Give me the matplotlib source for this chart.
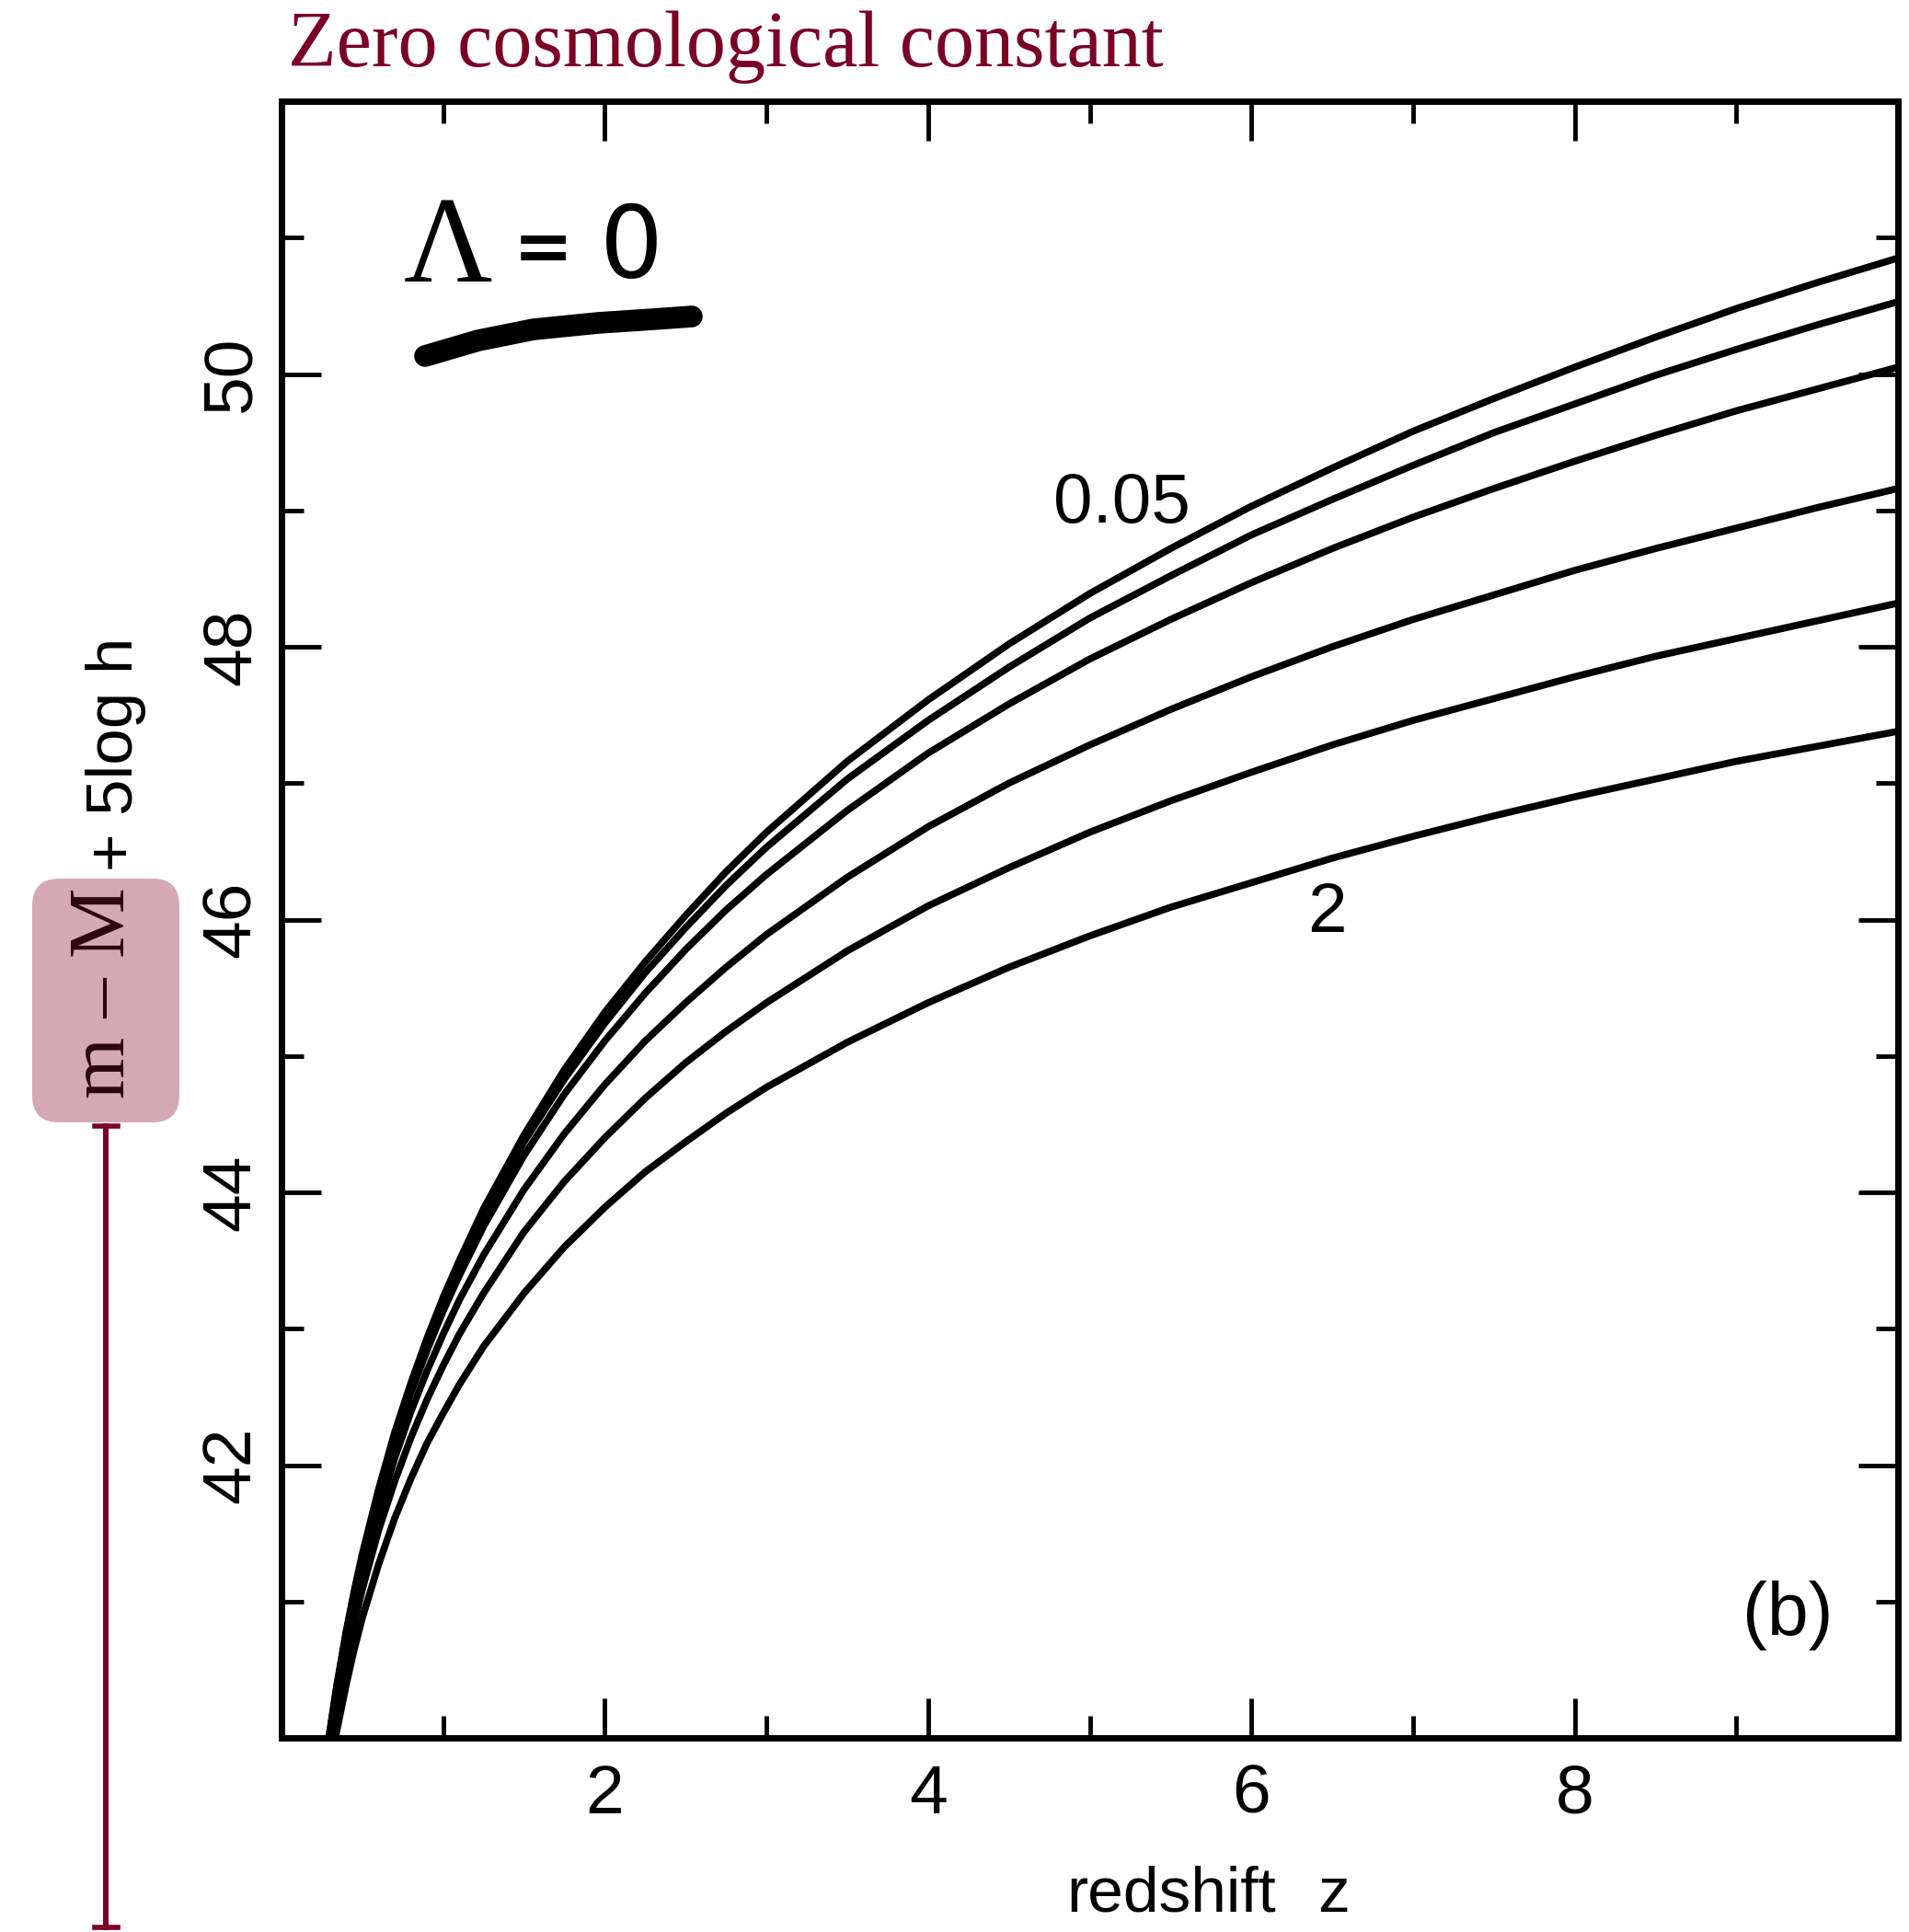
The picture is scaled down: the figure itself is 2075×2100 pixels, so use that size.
import matplotlib
matplotlib.use("Agg")
import matplotlib.pyplot as plt
from matplotlib.lines import Line2D
from matplotlib.patches import FancyBboxPatch

W, H = 2075, 2100

# redshift values where the curves were read
z = [0.28, 0.34, 0.4, 0.45, 0.5, 0.6, 0.7, 0.8, 0.9, 1.0, 1.1, 1.25, 1.5, 1.75, 2, 2.25,
     2.5, 2.75, 3, 3.5, 4, 4.5, 5, 5.5, 6, 6.5, 7, 7.5, 8, 8.5, 9, 9.5, 10]

# m - M + 5 log h for each density parameter (Lambda = 0)
mu_005 = [39.90, 40.37, 40.78, 41.08, 41.35, 41.82, 42.24, 42.60, 42.93, 43.23, 43.50,
          43.88, 44.42, 44.90, 45.32, 45.69, 46.03, 46.35, 46.64, 47.16, 47.61, 48.02,
          48.39, 48.72, 49.03, 49.31, 49.58, 49.82, 50.05, 50.27, 50.48, 50.67, 50.85]
mu_01 = [39.89, 40.36, 40.77, 41.06, 41.33, 41.81, 42.21, 42.58, 42.90, 43.19, 43.47,
         43.83, 44.37, 44.83, 45.24, 45.61, 45.94, 46.25, 46.53, 47.03, 47.46, 47.85,
         48.21, 48.52, 48.82, 49.08, 49.33, 49.57, 49.78, 49.99, 50.18, 50.36, 50.53]
mu_02 = [39.87, 40.34, 40.74, 41.03, 41.30, 41.77, 42.17, 42.53, 42.84, 43.13, 43.39,
         43.75, 44.27, 44.72, 45.11, 45.46, 45.78, 46.07, 46.33, 46.80, 47.22, 47.58,
         47.91, 48.20, 48.47, 48.72, 48.95, 49.16, 49.36, 49.55, 49.73, 49.89, 50.05]
mu_05 = [39.82, 40.28, 40.67, 40.96, 41.21, 41.66, 42.05, 42.39, 42.69, 42.96, 43.21,
         43.54, 44.02, 44.43, 44.79, 45.11, 45.39, 45.65, 45.89, 46.31, 46.68, 47.00,
         47.28, 47.54, 47.78, 48.00, 48.20, 48.38, 48.56, 48.72, 48.87, 49.02, 49.16]
mu_1 = [39.75, 40.19, 40.57, 40.84, 41.09, 41.52, 41.88, 42.20, 42.48, 42.73, 42.96,
        43.26, 43.71, 44.08, 44.40, 44.69, 44.95, 45.18, 45.39, 45.77, 46.10, 46.38,
        46.64, 46.87, 47.08, 47.28, 47.46, 47.62, 47.78, 47.93, 48.06, 48.19, 48.32]
mu_2 = [39.62, 40.04, 40.39, 40.65, 40.88, 41.27, 41.61, 41.90, 42.16, 42.38, 42.59,
        42.87, 43.26, 43.60, 43.89, 44.15, 44.37, 44.58, 44.77, 45.10, 45.39, 45.65,
        45.88, 46.09, 46.27, 46.45, 46.61, 46.76, 46.90, 47.03, 47.16, 47.27, 47.38]

curves = [mu_005, mu_01, mu_02, mu_05, mu_1, mu_2]

x_major = [2, 4, 6, 8]
x_minor = [1, 3, 5, 7, 9]
y_major = [42, 44, 46, 48, 50]
y_minor = [41, 43, 45, 47, 49, 51]

plt.rcParams['font.family'] = ['Liberation Sans', 'DejaVu Sans']

RED = '#7a0026'
PINK = '#d5a9b3'


def fx(px):
    return px / W


def fy(py):
    return 1 - py / H


fig = plt.figure(figsize=(W / 100, H / 100), dpi=100)
fig.patch.set_facecolor('white')
ax = fig.add_axes([fx(306), fy(1889), (2063 - 306) / W, (1889 - 110) / H])

for mu in curves:
    ax.plot(z, mu, color='black', lw=5.5, solid_capstyle='round', solid_joinstyle='round')

ax.set_xlim(0, 10)
ax.set_ylim(40, 52)
ax.set_xticks(x_major)
ax.set_xticks(x_minor, minor=True)
ax.set_yticks(y_major)
ax.set_yticks(y_minor, minor=True)
ax.tick_params(which='both', direction='in', top=True, right=True, width=3.5, color='black')
ax.tick_params(which='major', length=31)
ax.tick_params(which='minor', length=17)
ax.tick_params(axis='x', labelsize=54, pad=20)
ax.tick_params(axis='y', labelsize=54, pad=14, labelrotation=90)
for lab in ax.get_yticklabels():
    lab.set_va('center')
for sp in ax.spines.values():
    sp.set_linewidth(5)

# curve labels
ax.text(5.20, 49.04, '0.05', fontsize=55, ha='center', va='center')
ax.text(6.47, 46.04, '2', fontsize=55, ha='center', va='center')
ax.text(9.32, 40.90, '(b)', fontsize=58, ha='center', va='center')

# axis titles
fig.text(fx(1273), fy(2078), 'redshift', fontsize=50, ha='center', va='baseline')
fig.text(fx(1450), fy(2078), 'z', fontsize=50, ha='center', va='baseline')

box = FancyBboxPatch((fx(35), fy(1220)), 160 / W, 265 / H,
                     boxstyle='round,pad=0,rounding_size=0.014',
                     transform=fig.transFigure, facecolor=PINK, edgecolor='none')
fig.add_artist(box)
fig.text(fx(114), fy(1079), 'm – M', fontsize=62, family='Liberation Serif',
         color='#2b0510', rotation=90, ha='center', va='center')
fig.text(fx(126), fy(820), '+ 5log h', fontsize=51, rotation=90,
         ha='center', va='center')

# bracket line under the box
fig.add_artist(Line2D([fx(115), fx(115)], [fy(1224), fy(2095)], color=RED, lw=4.3,
                      transform=fig.transFigure))
for yy in (1224, 2095):
    fig.add_artist(Line2D([fx(103), fx(128)], [fy(yy), fy(yy)], color=RED, lw=4,
                          transform=fig.transFigure))

# title
fig.text(fx(313), fy(72), 'Zero cosmological constant', fontsize=62,
         family='Liberation Serif', color=RED, ha='left', va='baseline')

# hand-written Lambda = 0 with its underline
fig.text(fx(487), fy(274), 'Λ', fontsize=96, family='Liberation Serif',
         ha='center', va='center')
fig.text(fx(590), fy(272), '=', fontsize=56, family='DejaVu Sans', weight='bold',
         ha='center', va='center')
fig.text(fx(686), fy(271), '0', fontsize=78, family='DejaVu Sans',
         ha='center', va='center')
stroke_x = [462, 520, 580, 650, 710, 752]
stroke_y = [387, 370, 358, 351, 347, 344]
fig.add_artist(Line2D([fx(v) for v in stroke_x], [fy(v) for v in stroke_y], color='black',
                      lw=17, solid_capstyle='round', solid_joinstyle='round',
                      transform=fig.transFigure))

fig.savefig('out.png', dpi=100, facecolor='white')
